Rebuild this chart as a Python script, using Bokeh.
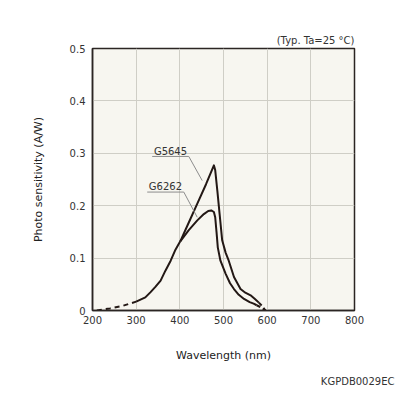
from bokeh.plotting import figure
from bokeh.models import Range1d, FixedTicker, Title
from bokeh.core.properties import value
from bokeh.embed import file_html
from bokeh.resources import INLINE

# ---- data ----
x_ticks = [200, 300, 400, 500, 600, 700, 800]
y_ticks = [0, 0.1, 0.2, 0.3, 0.4, 0.5]
y_tick_labels = ["0", "0.1", "0.2", "0.3", "0.4", "0.5"]

# common dashed low-wavelength tail
tail_wl = [210, 240, 270, 300]
tail_val = [0.0, 0.004, 0.009, 0.017]

# common solid part (both types)
common_wl = [300, 321, 333, 344, 356, 367, 379, 390, 401]
common_val = [0.017, 0.025, 0.035, 0.045, 0.057, 0.076, 0.095, 0.116, 0.132]

# G5645 solid
g5645_wl = [401, 420, 440, 460, 472, 478, 481, 486, 491, 497, 505, 512, 524, 539, 550, 562, 572, 581]
g5645_val = [0.132, 0.167, 0.204, 0.241, 0.265, 0.277, 0.268, 0.228, 0.185, 0.134, 0.110, 0.095, 0.064, 0.041, 0.034, 0.029, 0.022, 0.015]
# G5645 dashed tail
g5645_tail_wl = [581, 588, 596]
g5645_tail_val = [0.015, 0.009, 0.0]

# G6262 solid
g6262_wl = [401, 420, 440, 455, 465, 472, 478, 481, 484, 487, 493, 505, 515, 524, 535, 547, 560, 569, 576]
g6262_val = [0.132, 0.153, 0.172, 0.184, 0.190, 0.191, 0.188, 0.178, 0.150, 0.120, 0.095, 0.070, 0.052, 0.041, 0.030, 0.022, 0.016, 0.013, 0.010]
g6262_tail_wl = [576, 586, 596]
g6262_tail_val = [0.010, 0.006, 0.0]

# curve labels and leader lines
label_names = ["G5645", "G6262"]
label_wl = [378.6, 367.0]
label_val = [0.304, 0.236]
leader_g5645_wl = [336.7, 420.5, 451.2]
leader_g5645_val = [0.294, 0.294, 0.248]
leader_g6262_wl = [325.3, 409.1, 439.8]
leader_g6262_val = [0.226, 0.226, 0.178]

FONT = "DejaVu Sans"
CURVE = "#231815"
TXT = "#333333"

p = figure(width=396, height=396,
           x_range=Range1d(200, 800), y_range=Range1d(0, 0.5),
           output_backend="svg", toolbar_location=None,
           min_border_left=92, min_border_right=42,
           min_border_top=48, min_border_bottom=86)

p.background_fill_color = "#F7F6F0"
p.border_fill_color = "white"
p.outline_line_color = "#2b2523"
p.outline_line_width = 1.5

p.xgrid.grid_line_color = "#cfcec6"
p.ygrid.grid_line_color = "#cfcec6"
p.xgrid.grid_line_width = 1
p.ygrid.grid_line_width = 1

p.xaxis.ticker = FixedTicker(ticks=x_ticks)
p.yaxis.ticker = FixedTicker(ticks=y_ticks)
p.yaxis.major_label_overrides = {t: l for t, l in zip(y_ticks, y_tick_labels)}

for ax in (p.xaxis, p.yaxis):
    ax.axis_line_color = "#2b2523"
    ax.axis_line_width = 1.5
    ax.major_tick_line_color = None
    ax.minor_tick_line_color = None
    ax.major_tick_out = 0
    ax.major_tick_in = 0
    ax.minor_tick_out = 0
    ax.major_label_text_font = FONT
    ax.major_label_text_font_size = "10px"
    ax.major_label_text_color = TXT
    ax.axis_label_text_font = FONT
    ax.axis_label_text_font_size = "11px"
    ax.axis_label_text_font_style = "normal"
    ax.axis_label_text_color = "#222222"

p.xaxis.major_label_standoff = 5
p.yaxis.major_label_standoff = 7
p.xaxis.axis_label = "Wavelength (nm)"
p.yaxis.axis_label = "Photo sensitivity (A/W)"
p.xaxis.axis_label_standoff = 22
p.yaxis.axis_label_standoff = 22

# curves
p.line(tail_wl, tail_val, line_color=CURVE, line_width=2, line_dash="5 4")
p.line(common_wl, common_val, line_color=CURVE, line_width=2, line_join="round")
p.line(g5645_wl, g5645_val, line_color=CURVE, line_width=2, line_join="round")
p.line(g5645_tail_wl, g5645_tail_val, line_color=CURVE, line_width=2, line_dash="4 3")
p.line(g6262_wl, g6262_val, line_color=CURVE, line_width=2, line_join="round")
p.line(g6262_tail_wl, g6262_tail_val, line_color=CURVE, line_width=2, line_dash="4 3")

# leader lines
p.line(leader_g5645_wl, leader_g5645_val, line_color="#8c8c8c", line_width=1)
p.line(leader_g6262_wl, leader_g6262_val, line_color="#8c8c8c", line_width=1)

p.text(x=label_wl, y=label_val, text=label_names, text_font=value(FONT),
       text_font_size="10px", text_color=TXT, text_align="center",
       text_baseline="middle")

p.add_layout(Title(text="(Typ. Ta=25 °C)", align="right", standoff=6,
                   text_font=FONT, text_font_size="10px",
                   text_font_style="normal", text_color=TXT), "above")
p.add_layout(Title(text="KGPDB0029EC", align="right", standoff=18, offset=-40,
                   text_font=FONT, text_font_size="10px",
                   text_font_style="normal", text_color=TXT), "below")

open("out.html", "w").write(file_html(p, INLINE))
